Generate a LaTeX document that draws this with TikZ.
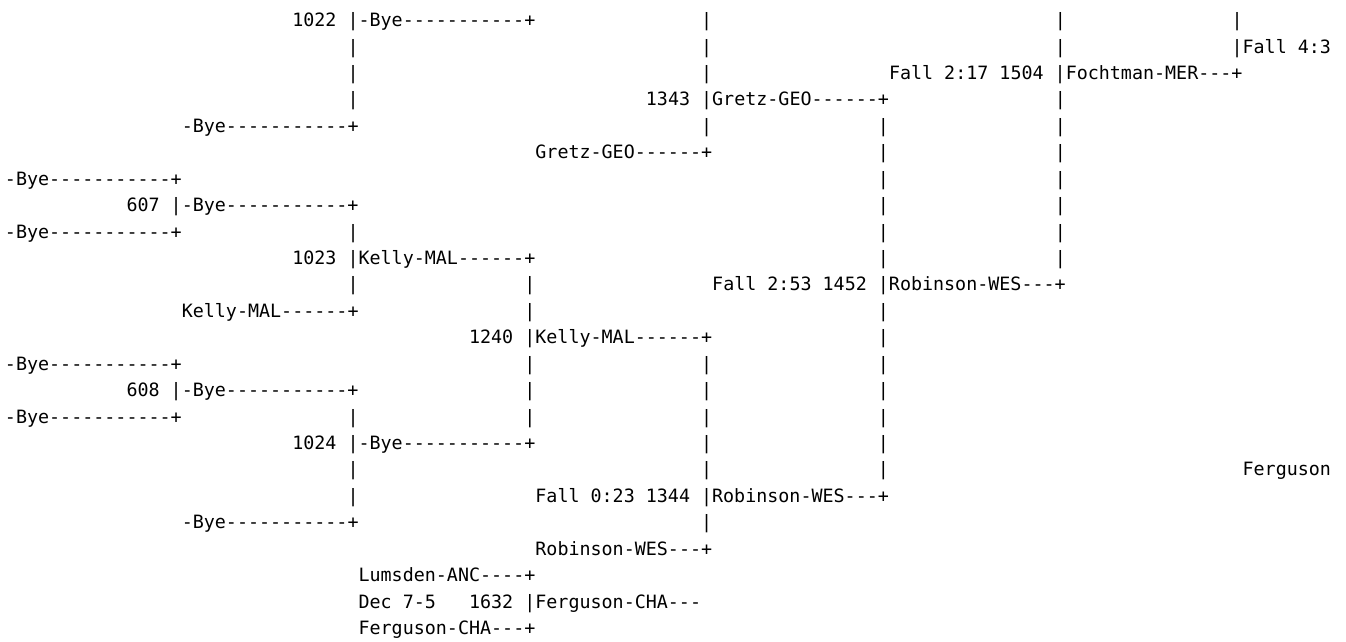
\documentclass[tikz,border=0pt]{standalone}
\usepackage{fontspec}
\setmonofont{DejaVu Sans Mono}
\newcommand\tx[4]{\node[txt] (#1) at ({5+#3*11.05},{-26.6-(#2-1)*26.43}) {#4};}
\begin{document}
\begin{tikzpicture}[x=1pt,y=1pt,
  txt/.style={anchor=base west,inner sep=0pt,outer sep=0pt,font=\ttfamily\fontsize{18.35}{22}\selectfont,text=black}]
\useasboundingbox (0,0) rectangle (1346,-641);
\tx{a1}{1}{26}{1022 |-Bye-----------+}\tx{b1}{1}{63}{|}\tx{c1}{1}{95}{|}\tx{d1}{1}{111}{|}
\tx{a2}{2}{31}{|}\tx{b2}{2}{63}{|}\tx{c2}{2}{95}{|}\tx{d2}{2}{111}{|Fall 4:3}
\tx{a3}{3}{31}{|}\tx{b3}{3}{63}{|}\tx{c3}{3}{80}{Fall 2:17 1504 |Fochtman-MER---+}
\tx{a4}{4}{31}{|}\tx{b4}{4}{58}{1343 |Gretz-GEO------+}\tx{c4}{4}{95}{|}
\tx{a5}{5}{16}{-Bye-----------+}\tx{b5}{5}{63}{|}\tx{c5}{5}{79}{|}\tx{d5}{5}{95}{|}
\tx{a6}{6}{48}{Gretz-GEO------+}\tx{b6}{6}{79}{|}\tx{c6}{6}{95}{|}
\tx{a7}{7}{0}{-Bye-----------+}\tx{b7}{7}{79}{|}\tx{c7}{7}{95}{|}
\tx{a8}{8}{11}{607 |-Bye-----------+}\tx{b8}{8}{79}{|}\tx{c8}{8}{95}{|}
\tx{a9}{9}{0}{-Bye-----------+}\tx{b9}{9}{31}{|}\tx{c9}{9}{79}{|}\tx{d9}{9}{95}{|}
\tx{a10}{10}{26}{1023 |Kelly-MAL------+}\tx{b10}{10}{79}{|}\tx{c10}{10}{95}{|}
\tx{a11}{11}{31}{|}\tx{b11}{11}{47}{|}\tx{c11}{11}{64}{Fall 2:53 1452 |Robinson-WES---+}
\tx{a12}{12}{16}{Kelly-MAL------+}\tx{b12}{12}{47}{|}\tx{c12}{12}{79}{|}
\tx{a13}{13}{42}{1240 |Kelly-MAL------+}\tx{b13}{13}{79}{|}
\tx{a14}{14}{0}{-Bye-----------+}\tx{b14}{14}{47}{|}\tx{c14}{14}{63}{|}\tx{d14}{14}{79}{|}
\tx{a15}{15}{11}{608 |-Bye-----------+}\tx{b15}{15}{47}{|}\tx{c15}{15}{63}{|}\tx{d15}{15}{79}{|}
\tx{a16}{16}{0}{-Bye-----------+}\tx{b16}{16}{31}{|}\tx{c16}{16}{47}{|}\tx{d16}{16}{63}{|}\tx{e16}{16}{79}{|}
\tx{a17}{17}{26}{1024 |-Bye-----------+}\tx{b17}{17}{63}{|}\tx{c17}{17}{79}{|}
\tx{a18}{18}{31}{|}\tx{b18}{18}{63}{|}\tx{c18}{18}{79}{|}\tx{d18}{18}{112}{Ferguson}
\tx{a19}{19}{31}{|}\tx{b19}{19}{48}{Fall 0:23 1344 |Robinson-WES---+}
\tx{a20}{20}{16}{-Bye-----------+}\tx{b20}{20}{63}{|}
\tx{a21}{21}{48}{Robinson-WES---+}
\tx{a22}{22}{32}{Lumsden-ANC----+}
\tx{a23}{23}{32}{Dec 7-5}\tx{b23}{23}{42}{1632 |Ferguson-CHA---}
\tx{a24}{24}{32}{Ferguson-CHA---+}
\end{tikzpicture}
\end{document}
